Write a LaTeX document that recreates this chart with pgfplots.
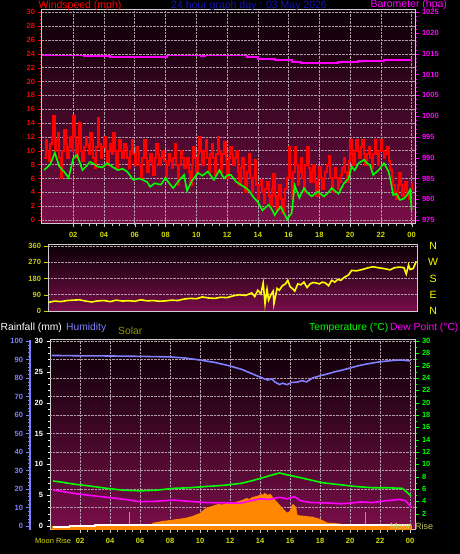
\documentclass[border=0pt]{standalone}
\usepackage{pgfplots}
\pgfplotsset{compat=1.18}
\usepackage{fontspec}
\setmainfont{Liberation Sans}

\definecolor{windred}{RGB}{255,0,0}
\definecolor{avggreen}{RGB}{0,255,0}
\definecolor{baromag}{RGB}{255,0,255}
\definecolor{diryellow}{RGB}{255,255,0}
\definecolor{ticky}{RGB}{204,204,0}
\definecolor{hourlab}{RGB}{210,220,0}
\definecolor{humblue}{RGB}{128,128,255}
\definecolor{solarorange}{RGB}{255,136,0}
\definecolor{navytitle}{RGB}{20,20,175}
\definecolor{bgtop}{RGB}{10,0,5}
\definecolor{bgbot}{RGB}{122,14,74}
\definecolor{gridc}{RGB}{175,155,170}
\definecolor{framec}{RGB}{205,205,205}
\definecolor{solarlabel}{RGB}{150,150,0}
\definecolor{sunline}{RGB}{210,160,0}
\definecolor{moonlab}{RGB}{200,200,90}

\pgfplotsset{
  base/.style={
    scale only axis, anchor=south west,
    /pgf/number format/assume math mode=true,
    /pgf/number format/1000 sep={},
    tick label style={font=\fontsize{7.5}{8}\selectfont\bfseries},
    grid style={gridc, densely dotted, line width=0.6pt},
    axis line style={framec, line width=1pt},
    tick align=outside,
    major tick length=3.5pt, minor tick length=2pt,
    clip mode=individual,
  },
  bg/.style={axis background/.style={shade, top color=bgtop, bottom color=bgbot}},
}

\begin{document}
\begin{tikzpicture}
\fill[black] (0,0) rectangle (460pt,554pt);

% ---------------- top panel: wind speed ----------------
\begin{axis}[base, bg, at={(42pt,330pt)}, width=373pt, height=214pt,
  xmin=-0.03, xmax=24.22, ymin=-0.58, ymax=30.33,
  xtick={2,4,...,24}, xticklabels={02,04,06,08,10,12,14,16,18,20,22,00},
  xtick pos=bottom, minor x tick num=3,
  x tick label style={hourlab, yshift=-1.5pt}, xtick style={framec},
  ytick={0,2,...,30}, ytick pos=left, minor y tick num=3,
  y tick label style={windred}, ytick style={windred},
  grid=major]
\addplot[windred, const plot, line width=2pt] coordinates {
(0.1,9)(0.2,11.5)(0.3,10)(0.4,8.5)(0.5,11)(0.6,12)(0.7,15)(0.8,10)(0.9,11.5)(1.0,12.5)(1.1,9)(1.2,6)(1.3,10)(1.4,13)(1.5,11)(1.6,9)
(1.7,10.5)(1.8,12)(1.9,10)(2.0,15)(2.1,12)(2.2,9)(2.3,11)(2.4,14)(2.5,10)(2.6,8.5)(2.7,10.5)(2.8,12)(2.9,11)(3.0,9.5)(3.1,12.5)(3.2,11.5)(3.3,9)(3.4,7.5)(3.5,10.5)(3.6,14.7)
(3.7,11)(3.8,9)(3.9,10.5)(4.0,12)(4.1,10)(4.2,8)(4.3,10)(4.4,11)(4.5,9.5)(4.6,12.5)(4.7,10)(4.8,7.5)(4.9,10)(5.0,11.5)(5.1,10)(5.2,9)(5.3,11)(5.4,10.5)(5.5,9)(5.6,7.5)
(5.7,10)(5.8,11.5)(5.9,9.5)(6.0,8)(6.1,10.5)(6.2,10)(6.3,8)(6.4,6)(6.5,9)(6.6,11.5)(6.7,9)(6.8,7)(6.9,8.5)(7.0,9.5)(7.1,8)(7.2,6.5)(7.3,9)(7.4,11)(7.5,9.5)(7.6,8)
(7.7,9)(7.8,10)(7.9,8.5)(8.0,6)(8.1,8)(8.2,9.5)(8.3,8.5)(8.4,7.5)(8.5,9)(8.6,11)(8.7,8)(8.8,5)(8.9,8)(9.0,10)(9.1,9)(9.2,7.5)(9.3,8)(9.4,9)(9.5,7)(9.6,5)
(9.7,8)(9.8,10.5)(9.9,9)(10.0,7)(10.1,9.5)(10.2,12)(10.3,10)(10.4,8)(10.5,10)(10.6,11.5)(10.7,9)(10.8,7)(10.9,9.5)(11.0,11)(11.1,9)(11.2,6.5)(11.3,9.5)(11.4,12)(11.5,10)(11.6,7)
(11.7,9.5)(11.8,11.3)(11.9,8.5)(12.0,6)(12.1,9)(12.2,10.5)(12.3,9.5)(12.4,8)(12.5,9)(12.6,10)(12.7,7)(12.8,5)(12.9,7.5)(13.0,9)(13.1,6)(13.2,4)(13.3,7)(13.4,9.5)(13.5,6)(13.6,4)
(13.7,6)(13.8,8.7)(13.9,5)(14.0,3)(14.1,5)(14.2,5.8)(14.3,4)(14.4,2.5)(14.5,4.5)(14.6,5.5)(14.7,3.5)(14.8,2)(14.9,4.5)(15.0,6.7)(15.1,3.5)(15.2,1.5)(15.3,3.5)(15.4,5)(15.5,3)(15.6,1)
(15.7,3)(15.8,4.5)(15.9,6)(16.0,10.6)(16.1,6)(16.2,3)(16.3,7)(16.4,10.5)(16.5,8)(16.6,5)(16.7,7)(16.8,9)(16.9,6)(17.0,4)(17.1,8)(17.2,10.6)(17.3,7.5)(17.4,5.5)(17.5,7)(17.6,8)
(17.7,5.5)(17.8,3.5)(17.9,6)(18.0,7.7)(18.1,6)(18.2,4.5)(18.3,6)(18.4,7)(18.5,8)(18.6,9.2)(18.7,6)(18.8,4)(18.9,6)(19.0,7.5)(19.1,6)(19.2,4.5)(19.3,5.5)(19.4,6.5)(19.5,7.5)(19.6,9)
(19.7,7)(19.8,5.5)(19.9,8.5)(20.0,11.6)(20.1,9.5)(20.2,8)(20.3,10)(20.4,11.6)(20.5,10)(20.6,9)(20.7,10.5)(20.8,11.6)(20.9,9.5)(21.0,8)(21.1,9.5)(21.2,10.6)(21.3,9)(21.4,7.5)(21.5,9.5)(21.6,11.5)
(21.7,9.5)(21.8,8)(21.9,10)(22.0,11.6)(22.1,10)(22.2,9)(22.3,9.5)(22.4,10.5)(22.5,8.5)(22.6,7.2)(22.7,6)(22.8,5)(22.9,4)(23.0,3)(23.1,5)(23.2,6.8)(23.3,5)(23.4,3.5)(23.5,4.5)(23.6,5.5)
(23.7,4)(23.8,3)(23.9,4.5)(24.0,5.3)};
\addplot[avggreen, line width=1.6pt] coordinates {
(0.1,7.2)(0.5,8.0)(0.8,9.7)(1.1,7.7)(1.4,7.0)(1.7,6.1)(2.0,8.9)(2.25,9.4)(2.6,7.2)(2.9,7.9)
(3.1,8.4)(3.4,8.0)(3.6,7.7)(3.9,7.6)(4.2,8.2)(4.6,7.6)(4.9,7.2)(5.2,7.4)(5.5,7.0)(5.9,5.8)
(6.3,6.0)(6.8,5.5)(7.0,4.8)(7.3,5.3)(7.7,5.1)(8.0,6.1)(8.2,5.4)(8.5,4.6)(8.8,5.5)(9.2,6.5)
(9.4,4.2)(9.7,5.6)(10.1,6.8)(10.4,6.4)(10.75,7.0)(11.15,5.8)(11.5,7.2)(11.8,6.0)(12.05,6.5)(12.25,6.5)
(12.6,5.5)(13.1,4.8)(13.4,4.3)(13.75,3.2)(14.0,2.6)(14.3,1.4)(14.7,2.2)(14.9,1.6)(15.1,0.7)(15.3,1.4)
(15.5,1.9)(15.7,1.0)(15.9,0.1)(16.2,1.0)(16.4,5.0)(16.7,3.2)(17.0,4.6)(17.2,4.0)(17.5,3.4)(17.9,4.1)
(18.3,3.4)(18.6,4.0)(18.8,4.6)(19.25,3.8)(19.6,5.3)(19.9,6.0)(20.1,7.7)(20.3,7.2)(20.55,8.2)(20.9,8.7)
(21.1,8.2)(21.3,7.9)(21.5,6.5)(21.85,7.2)(22.2,8.2)(22.5,7.0)(22.65,5.5)(22.8,3.6)(23.0,3.8)(23.25,2.9)
(23.5,3.1)(23.7,3.6)(23.9,4.3)(24.0,1.4)};
\end{axis}

% barometer overlay
\begin{axis}[base, at={(42pt,330pt)}, width=373pt, height=214pt,
  xmin=-0.03, xmax=24.22, ymin=974.04, ymax=1025.55,
  axis x line=none, axis y line*=right, y axis line style={-},
  ytick={975,980,...,1025}, minor y tick num=4,
  y tick label style={baromag}, ytick style={baromag}]
\addplot[baromag, line width=1.8pt] coordinates {
(0.0,1014.6)(0.3,1014.6)(0.3,1014.75)(0.45,1014.75)(0.45,1014.6)(2.7,1014.6)(2.7,1014.4)(4.4,1014.4)
(4.4,1014.2)(5.5,1014.2)(5.5,1014.3)(6.2,1014.3)(6.2,1014.2)(8.1,1014.2)(8.1,1014.6)(10.3,1014.6)
(10.3,1014.45)(10.6,1014.45)(10.6,1014.6)(13.3,1014.6)(13.3,1014.2)(14.0,1014.2)(14.0,1013.8)(15.1,1013.8)
(15.1,1013.5)(16.2,1013.5)(16.2,1013.0)(16.8,1013.0)(16.8,1012.8)(19.2,1012.8)(19.2,1013.1)(20.5,1013.1)
(20.5,1013.35)(22.2,1013.35)(22.2,1013.6)(23.3,1013.6)(23.3,1013.5)(23.6,1013.5)(23.6,1013.6)(24.0,1013.6)};
\end{axis}

% ---------------- middle panel: wind direction ----------------
\begin{axis}[base, bg, at={(48pt,242pt)}, width=369pt, height=67pt,
  xmin=0.36, xmax=24.35, ymin=-5.5, ymax=365.5,
  xtick=\empty, ytick={0,90,180,270,360}, ytick pos=left,
  ymajorgrids, y tick label style={ticky}, ytick style={ticky}]
\addplot[diryellow, line width=1.6pt] coordinates {
(0.4,48)(0.8,55)(1.2,52)(1.6,58)(2.0,60)(2.4,62)(2.8,55)(3.2,50)(3.6,56)(4.0,58)
(4.4,52)(4.8,60)(5.2,55)(5.6,57)(6.0,54)(6.4,62)(6.8,56)(7.2,58)(7.6,54)(8.0,56)
(8.4,60)(8.8,58)(9.2,66)(9.6,70)(10.0,68)(10.4,78)(10.8,72)(11.2,70)(11.6,76)(12.0,74)
(12.4,84)(12.8,90)(13.2,86)(13.6,100)(13.8,80)(14.0,115)(14.2,95)(14.35,155)(14.47,40)(14.6,120)
(14.7,60)(14.85,90)(15.0,110)(15.05,40)(15.25,125)(15.4,115)(15.6,140)(15.8,150)(15.95,170)(16.1,135)
(16.3,120)(16.4,110)(16.6,150)(16.8,145)(17.0,160)(17.2,130)(17.4,150)(17.6,158)(17.8,155)(18.0,150)
(18.2,160)(18.4,155)(18.6,140)(18.8,170)(19.0,160)(19.2,175)(19.4,170)(19.6,185)(19.9,200)(20.1,225)
(20.4,222)(20.8,230)(21.2,240)(21.5,245)(21.8,240)(22.2,235)(22.6,228)(22.9,240)(23.2,243)(23.5,240)
(23.65,205)(23.8,255)(23.9,230)(24.1,235)(24.3,275)};
\node[diryellow, font=\fontsize{10.5}{11}\selectfont] at (axis cs:25.4,360) {N};
\node[diryellow, font=\fontsize{10.5}{11}\selectfont] at (axis cs:25.4,270) {W};
\node[diryellow, font=\fontsize{10.5}{11}\selectfont] at (axis cs:25.4,180) {S};
\node[diryellow, font=\fontsize{10.5}{11}\selectfont] at (axis cs:25.4,90) {E};
\node[diryellow, font=\fontsize{10.5}{11}\selectfont] at (axis cs:25.4,0) {N};
\end{axis}

% ---------------- bottom panel ----------------
\begin{axis}[base, bg, at={(50pt,24pt)}, width=365pt, height=190pt,
  xmin=0, xmax=24.33, ymin=-0.65, ymax=30.16,
  xtick={2,4,...,24}, xticklabels={02,04,06,08,10,12,14,16,18,20,22,00},
  xtick pos=bottom, minor x tick num=3,
  x tick label style={hourlab, yshift=-1pt}, xtick style={framec},
  xmajorgrids,
  ytick={0,5,...,30}, ytick pos=left, minor y tick num=4,
  y tick label style={white}, ytick style={white},
  extra y ticks={3,6,...,30}, extra y tick labels={},
  extra y tick style={ymajorgrids=true, major tick length=0pt, minor y tick num=0}]
\end{axis}

% solar (hidden axis)
\begin{axis}[base, at={(50pt,24pt)}, width=365pt, height=190pt,
  xmin=0, xmax=24.33, ymin=-21.6, ymax=1005.4, hide x axis, hide y axis]
\addplot[fill=solarorange, draw=none] coordinates {
(0.1,-21.6)(0.1,0)(6.5,0)(6.9,18)(7.5,27)(8.0,32)(8.5,38)(9.0,43)(9.5,54)(10.0,70)
(10.2,85)(10.4,97)(10.8,108)(11.2,119)(11.5,116)(11.8,124)(12.1,122)(12.4,130)(12.8,140)(13.1,151)
(13.3,146)(13.5,157)(13.8,162)(14.1,173)(14.2,168)(14.3,180)(14.5,168)(14.7,173)(14.9,151)(15.2,124)
(15.5,97)(15.8,72)(16.0,81)(16.1,110)(16.2,119)(16.4,103)(16.5,59)(17.0,54)(17.5,50)(18.0,38)
(18.5,18)(19.0,16)(19.5,11)(20.0,3)(20.5,0)(24.05,0)(24.05,-21.6)};
\addplot[sunline, line width=1pt] coordinates {(5.33,-21.6)(5.33,77)};
\addplot[sunline, line width=1pt] coordinates {(21.0,-21.6)(21.0,77)};
\end{axis}

% humidity axis
\begin{axis}[base, at={(30pt,24pt)}, width=385pt, height=190pt,
  xmin=-1.3333, xmax=24.33, ymin=-2.16, ymax=100.54,
  axis x line=none, axis y line*=left,
  y axis line style={-, humblue, line width=2.5pt},
  ytick={0,10,...,100}, minor y tick num=4,
  y tick label style={humblue}, ytick style={humblue}]
\addplot[humblue, line width=1.6pt] coordinates {
(0.1,92.2)(2.0,92.0)(4.0,91.9)(6.0,91.7)(8.0,91.4)(9.0,90.8)(10.0,89.7)(11.0,88.4)(12.0,86.5)(12.8,84.6)
(13.5,82.2)(14.0,80.5)(14.5,78.9)(14.8,79.5)(15.0,77.8)(15.3,76.5)(15.5,77.2)(15.8,76.4)(16.1,77.6)(16.5,77.8)
(16.8,78.6)(17.1,77.9)(17.5,80.0)(18.0,81.2)(18.5,82.2)(19.0,83.4)(19.5,84.3)(20.0,85.4)(20.5,86.5)(21.0,87.4)
(21.5,88.1)(22.0,88.8)(22.5,89.2)(23.0,89.6)(23.5,89.7)(24.0,89.2)};
\end{axis}

% temperature axis
\begin{axis}[base, at={(50pt,24pt)}, width=365pt, height=190pt,
  xmin=0, xmax=24.33, ymin=-0.65, ymax=30.16,
  axis x line=none, axis y line*=right, y axis line style={-},
  ytick={2,4,...,30}, minor y tick num=1,
  y tick label style={avggreen}, ytick style={avggreen}]
\addplot[white, const plot, line width=1.3pt] coordinates {
(0.2,-0.15)(1.3,0.0)(3.0,0.15)(24.0,0.15)};
\addplot[baromag, line width=1.6pt] coordinates {
(0.2,5.84)(0.8,5.6)(1.55,5.3)(2.5,5.0)(3.8,4.65)(5.0,4.3)(6.0,3.95)(7.0,4.0)(8.2,4.2)(9.3,4.0)
(10.4,3.8)(11.5,3.75)(12.7,3.7)(13.4,4.1)(14.0,4.4)(14.6,4.3)(15.3,4.65)(15.8,4.4)(16.3,4.75)(16.7,4.1)
(17.4,3.8)(18.4,3.75)(19.4,3.6)(20.0,3.7)(20.7,3.9)(21.5,3.8)(22.4,4.1)(23.3,4.3)(23.7,4.1)(24.1,3.0)};
\addplot[avggreen, line width=1.6pt] coordinates {
(0.2,7.3)(0.8,7.1)(1.55,6.8)(2.6,6.5)(3.8,6.1)(4.9,5.8)(6.0,5.7)(7.1,5.8)(8.2,6.1)(9.3,6.2)
(10.4,6.4)(11.6,6.6)(12.7,6.9)(13.4,7.3)(14.0,7.7)(14.7,8.2)(15.3,8.6)(15.8,8.3)(16.4,8.0)(17.3,7.5)
(18.2,7.0)(19.3,6.7)(20.4,6.4)(21.5,6.2)(22.5,6.2)(23.5,6.1)(24.05,4.9)};
\end{axis}

% ---------------- texts ----------------
\node[anchor=base west, windred, font=\fontsize{10.5}{12}\selectfont] at (35pt,545pt) {Windspeed (mph)};
\node[anchor=base, navytitle, font=\fontsize{10.5}{12}\selectfont] at (249pt,545pt) {24 hour graph day : 03 May 2026};
\node[anchor=base west, baromag, font=\fontsize{10.5}{12}\selectfont] at (367pt,546pt) {Barometer (hpa)};

\node[anchor=base west, white, font=\fontsize{10.3}{12}\selectfont, inner sep=0pt] at (0.5pt,223.3pt) {Rainfall (mm)};
\node[anchor=base west, humblue, font=\fontsize{10.3}{12}\selectfont, inner sep=0pt] at (66pt,223.3pt) {Humidity};
\node[anchor=base west, solarlabel, font=\fontsize{10.3}{12}\selectfont, inner sep=0pt] at (118pt,219pt) {Solar};
\node[anchor=base west, avggreen, font=\fontsize{10.3}{12}\selectfont, inner sep=0pt] at (309pt,223.3pt) {Temperature (°C)};
\node[anchor=base west, baromag, font=\fontsize{10.3}{12}\selectfont, inner sep=0pt] at (390pt,223.3pt) {Dew Point (°C)};

\node[anchor=base west, hourlab, font=\fontsize{7.5}{8}\selectfont, inner sep=0pt] at (35pt,10pt) {Moon Rise};
\node[anchor=base west, moonlab, font=\fontsize{9}{10}\selectfont, inner sep=0pt] at (390pt,24.5pt) {Moon Rise};

\pgfresetboundingbox
\useasboundingbox (0,0) rectangle (460pt,554pt);
\end{tikzpicture}
\end{document}
